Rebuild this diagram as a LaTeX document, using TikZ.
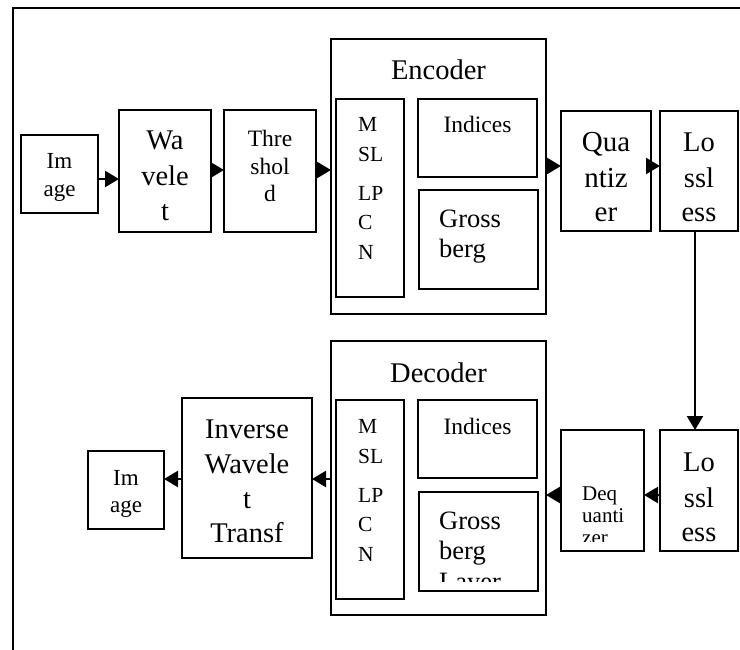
\documentclass[tikz,border=0pt]{standalone}
\usepackage{fontspec}
\setmainfont{Liberation Serif}
\usetikzlibrary{arrows.meta}
\newcommand\fsz[1]{\fontsize{#1}{#1}\selectfont}
\begin{document}
\begin{tikzpicture}[x=1pt,y=-1pt,
  box/.style={draw, line width=1.8pt, anchor=north west, inner sep=0pt, outer sep=0pt},
  tx/.style={inner sep=0pt, anchor=base},
  tl/.style={inner sep=0pt, anchor=base west},
  arr/.style={line width=2.2pt, -{Triangle[length=14pt,width=16pt]}}]
\useasboundingbox (0,0) rectangle (740,650);
% outer frame (cropped on right and bottom)
\draw[line width=2.8pt] (13,650) -- (13,8) -- (740,8);

% ---------- top row ----------
\node[box, minimum width=77pt, minimum height=78pt] (img1) at (21,135) {};
\node[box, minimum width=92pt, minimum height=122pt] (wav) at (119,110) {};
\node[box, minimum width=92pt, minimum height=122pt] (thr) at (224,110) {};
\node[box, minimum width=215pt, minimum height=275pt] (enc) at (331,39) {};
\node[box, minimum width=68pt, minimum height=198pt] (encm) at (336,99) {};
\node[box, minimum width=119pt, minimum height=78pt] (enci) at (418,99) {};
\node[box, minimum width=119pt, minimum height=99pt] (encg) at (419,190) {};
\node[box, minimum width=90pt, minimum height=120pt] (quant) at (561,111) {};
\node[box, minimum width=78pt, minimum height=120pt] (loss1) at (660,111) {};

% ---------- bottom row ----------
\node[box, minimum width=78pt, minimum height=121pt] (loss2) at (660,430) {};
\node[box, minimum width=83pt, minimum height=121pt] (deq) at (561,430) {};
\node[box, minimum width=215pt, minimum height=274pt] (dec) at (331,341) {};
\node[box, minimum width=68pt, minimum height=199pt] (decm) at (336,400) {};
\node[box, minimum width=119pt, minimum height=78pt] (deci) at (418,400) {};
\node[box, minimum width=119pt, minimum height=99pt] (decg) at (419,492) {};
\node[box, minimum width=130pt, minimum height=160pt] (inv) at (182,398) {};
\node[box, minimum width=76pt, minimum height=78pt] (img2) at (88,451) {};

% ---------- texts ----------
\begin{scope}[every node/.append style={font=\fsz{23}}]
\node[tx] (i1a) at (59.5,169) {Im};
\node[tx] (i1b) at (59.5,197) {age};
\node[tx] (i2a) at (126,485) {Im};
\node[tx] (i2b) at (126,512) {age};
\end{scope}

\begin{scope}[every node/.append style={font=\fsz{28.5}}]
\node[tx] (w1) at (165,150) {Wa};
\node[tx] (w2) at (165,186) {vele};
\node[tx] (w3) at (165,221) {t};
\node[tx] (encl) at (438.5,80) {Encoder};
\node[tx] (decl) at (438.5,382) {Decoder};
\node[tx] (l1a) at (699,152) {Lo};
\node[tx] (l1b) at (699,188) {ssl};
\node[tx] (l1c) at (699,222) {ess};
\node[tx] (l2a) at (699,471) {Lo};
\node[tx] (l2b) at (699,507) {ssl};
\node[tx] (l2c) at (699,541) {ess};
\node[tx] (iv1) at (247,438) {Inverse};
\node[tx] (iv2) at (247,473) {Wavele};
\node[tx] (iv3) at (247,508) {t};
\node[tx] (iv4) at (247,542) {Transf};
\end{scope}

\begin{scope}[every node/.append style={font=\fsz{29}}]
\node[tx] (q1) at (606,152) {Qua};
\node[tx] (q2) at (606,188) {ntiz};
\node[tx] (q3) at (606,222) {er};
\end{scope}

\begin{scope}[every node/.append style={font=\fsz{23.5}}]
\node[tx] (t1) at (270,147) {Thre};
\node[tx] (t2) at (270,175) {shol};
\node[tx] (t3) at (270,202) {d};
\node[tx] (ei) at (477.5,133) {Indices};
\node[tx] (di) at (477.5,434) {Indices};
\end{scope}

\begin{scope}[every node/.append style={font=\fsz{21.5}}]
\node[tl] (em1) at (358,132) {M};
\node[tl] (em2) at (358,162) {SL};
\node[tl] (em3) at (358,201) {LP};
\node[tl] (em4) at (358,230) {C};
\node[tl] (em5) at (358,260) {N};
\node[tl] (dm1) at (358,433) {M};
\node[tl] (dm2) at (358,463) {SL};
\node[tl] (dm3) at (358,502) {LP};
\node[tl] (dm4) at (358,531) {C};
\node[tl] (dm5) at (358,561) {N};
\end{scope}

\begin{scope}[every node/.append style={font=\fsz{26.5}}]
\node[tl] (eg1) at (439,228) {Gross};
\node[tl] (eg2) at (439,258) {berg};
\node[tl] (dg1) at (439,529) {Gross};
\node[tl] (dg2) at (439,559) {berg};
\begin{scope}
\clip (decg.north west) rectangle (decg.east |- 0,581);
\node[tl] (dg3) at (439,590) {Layer};
\end{scope}
\end{scope}

\begin{scope}[every node/.append style={font=\fsz{21}}]
\node[tl] (dq1) at (582,500) {Deq};
\node[tl] (dq2) at (582,522) {uanti};
\begin{scope}
\clip (deq.north west) rectangle (deq.east |- 0,541);
\node[tl] (dq3) at (582,544) {zer};
\end{scope}
\end{scope}

% ---------- connectors ----------
\draw[arr] (img1.east |- 0,179) -- (wav.west |- 0,179);
\draw[arr] (wav.east |- 0,170) -- (thr.west |- 0,170);
\draw[arr] (thr.east |- 0,170) -- (enc.west |- 0,170);
\draw[arr] (enc.east |- 0,166) -- (quant.west |- 0,166);
\draw[arr] (quant.east |- 0,166) -- (loss1.west |- 0,166);
\draw[arr] (695,0 |- loss1.south) -- (695,0 |- loss2.north);
\draw[arr] (loss2.west |- 0,495) -- (deq.east |- 0,495);
\draw[arr] (deq.west |- 0,495) -- (dec.east |- 0,495);
\draw[arr] (dec.west |- 0,479) -- (inv.east |- 0,479);
\draw[arr] (inv.west |- 0,479) -- (img2.east |- 0,479);
\end{tikzpicture}
\end{document}
